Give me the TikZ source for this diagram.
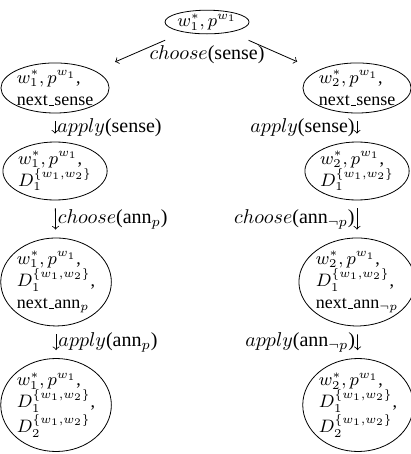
\documentclass[tikz,border=0pt]{standalone}
\usepackage{fontspec}
\setmainfont{Liberation Serif}
\usetikzlibrary{shapes.geometric}
\newcommand{\uscore}{\leavevmode\kern.06em\vbox{\hrule width.3em}}

\begin{document}
\begin{tikzpicture}[
    state/.style={ellipse, draw, align=left, inner sep=0pt, font=\small},
    down/.style={->, shorten <=4pt, shorten >=4pt}
  ]
  \useasboundingbox (0,0) rectangle (7.205,7.978);

  % States
  \node[state, minimum width=40pt, minimum height=11pt] (root) at (3.638,7.591) {$w_1^*, p^{w_1}$};

  \node[state, minimum width=50pt, minimum height=22.5pt] (left1) at (0.967,6.432) {$w_1^*, p^{w_1}$,\\ next\uscore sense};
  \node[state, minimum width=50pt, minimum height=22.5pt] (right1) at (6.274,6.432) {$w_2^*, p^{w_1}$,\\ next\uscore sense};

  \node[state, minimum width=50pt, minimum height=29pt] (left2) at (0.967,4.973) {$w_1^*, p^{w_1}$,\\ $D_1^{\{w_1,w_2\}}$};
  \node[state, minimum width=50pt, minimum height=29pt] (right2) at (6.274,4.973) {$w_2^*, p^{w_1}$,\\ $D_1^{\{w_1,w_2\}}$};

  \node[state, minimum width=51pt, minimum height=44pt] (left3) at (0.985,3.023) {$w_1^*, p^{w_1}$,\\ $D_1^{\{w_1,w_2\}}$,\\ next\uscore ann$_p$};
  \node[state, minimum width=51pt, minimum height=44pt] (right3) at (6.274,3.023) {$w_2^*, p^{w_1}$,\\ $D_1^{\{w_1,w_2\}}$,\\ next\uscore ann$_{\neg p}$};

  \node[state, minimum width=51pt, minimum height=46.5pt] (left4) at (0.985,0.861) {$w_1^*, p^{w_1}$,\\ $D_1^{\{w_1,w_2\}}$,\\ $D_2^{\{w_1,w_2\}}$};
  \node[state, minimum width=51pt, minimum height=46.5pt] (right4) at (6.292,0.861) {$w_2^*, p^{w_1}$,\\ $D_1^{\{w_1,w_2\}}$,\\ $D_2^{\{w_1,w_2\}}$};

  % Sense
  \draw[->, shorten <=10pt, shorten >=11pt] (root) -- (left1);
  \draw[->, shorten <=10pt, shorten >=11pt] (root) -- (right1);
  \node (sense) at (3.638,7.012) {$choose$(sense)};

  \draw[down] (left1) -- (left2) node[midway, right, inner sep=1pt] {$apply$(sense)};
  \draw[down] (right1) -- (right2) node[midway, left, inner sep=1pt] {$apply$(sense)};

  % Annotations
  \draw[down] (left2) -- (left3) node[midway, right, inner sep=1pt] {$choose$(ann$_p$)};
  \draw[down] (right2) -- (right3) node[midway, left, inner sep=1pt] {$choose$(ann$_{\neg p}$)};

  \draw[down] (left3) -- (left4) node[midway, right, inner sep=1pt] {$apply$(ann$_p$)};
  \draw[down] (right3) -- (right4) node[midway, left, inner sep=1pt] {$apply$(ann$_{\neg p}$)};
\end{tikzpicture}
\end{document}
